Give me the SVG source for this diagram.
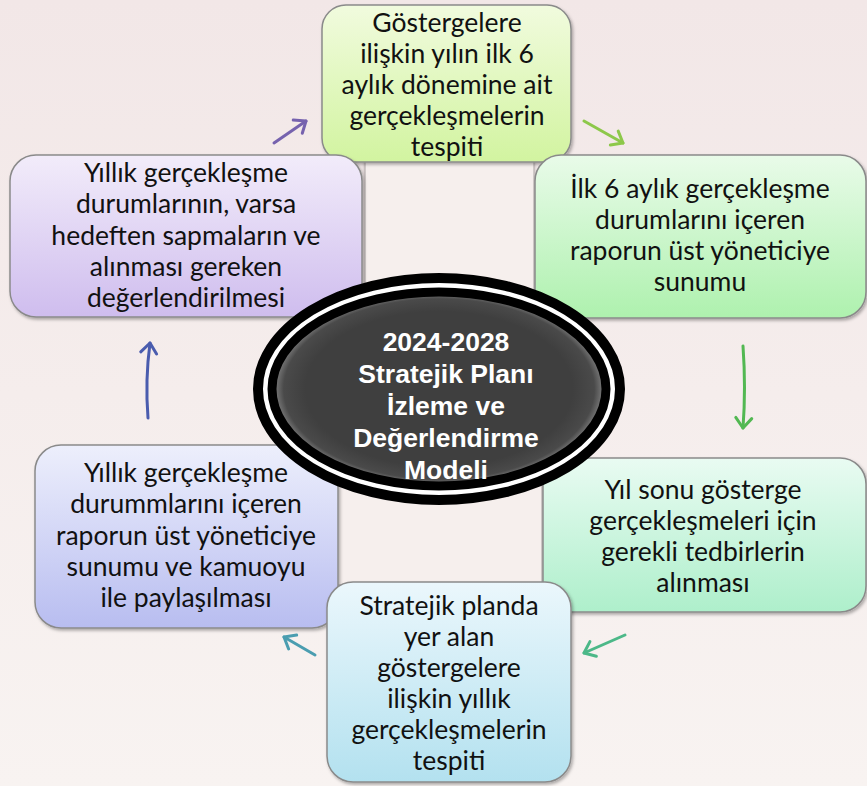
<svg xmlns="http://www.w3.org/2000/svg" width="867" height="786" viewBox="0 0 867 786">
<defs>
<style>
.box{stroke:#8a8a8a;stroke-width:1.5;filter:url(#sh)}
.t{font-family:Lato,"Open Sans",sans-serif;font-size:26.5px;fill:#111;text-anchor:middle}
.c{font-family:"Liberation Sans",Arial,sans-serif;font-weight:bold;font-size:26.5px;fill:#fff;text-anchor:middle}
.ar{fill:none;stroke-width:3;stroke-linecap:round}
.ph{fill:#f6efed;stroke:#b9b1b1;stroke-width:1.2;filter:url(#sh2)}
</style>
<linearGradient id="bg" x1="0" y1="0" x2="0" y2="1"><stop offset="0" stop-color="#f2e7e7"/><stop offset="1" stop-color="#f8f3f1"/></linearGradient>
<linearGradient id="g1" x1="0" y1="0" x2="0" y2="1"><stop offset="0" stop-color="#f1fbde"/><stop offset="1" stop-color="#d2f4a0"/></linearGradient>
<linearGradient id="g2" x1="0" y1="0" x2="0" y2="1"><stop offset="0" stop-color="#e9fbe9"/><stop offset="1" stop-color="#aef1ae"/></linearGradient>
<linearGradient id="g3" x1="0" y1="0" x2="0" y2="1"><stop offset="0" stop-color="#e9fbf2"/><stop offset="1" stop-color="#aeefcb"/></linearGradient>
<linearGradient id="g4" x1="0" y1="0" x2="0" y2="1"><stop offset="0" stop-color="#ebf7fc"/><stop offset="1" stop-color="#b3e1ef"/></linearGradient>
<linearGradient id="g5" x1="0" y1="0" x2="0" y2="1"><stop offset="0" stop-color="#edeffc"/><stop offset="1" stop-color="#b8bdf0"/></linearGradient>
<linearGradient id="g6" x1="0" y1="0" x2="0" y2="1"><stop offset="0" stop-color="#f2ecfa"/><stop offset="1" stop-color="#cfbdee"/></linearGradient>
<radialGradient id="eg" cx="0.5" cy="0.5" r="0.5"><stop offset="0.8" stop-color="#3f3f3f"/><stop offset="0.93" stop-color="#4a4a4a"/><stop offset="1" stop-color="#8a8a8a"/></radialGradient>
<filter id="sh" x="-5%" y="-5%" width="115%" height="115%"><feDropShadow dx="1.5" dy="2" stdDeviation="1.5" flood-color="#000" flood-opacity="0.3"/></filter>
<filter id="sh2" x="-5%" y="-5%" width="115%" height="115%"><feDropShadow dx="0" dy="0" stdDeviation="1.5" flood-color="#000" flood-opacity="0.25"/></filter>
<marker id="m1" viewBox="-13 -11 16 22" refX="0" refY="0" markerWidth="16" markerHeight="22" markerUnits="userSpaceOnUse" orient="auto"><path d="M-10,-8 L0,0 L-10,8" fill="none" stroke="#7662ae" stroke-width="3" stroke-linecap="round" stroke-linejoin="round"/></marker>
<marker id="m2" viewBox="-13 -11 16 22" refX="0" refY="0" markerWidth="16" markerHeight="22" markerUnits="userSpaceOnUse" orient="auto"><path d="M-10,-8 L0,0 L-10,8" fill="none" stroke="#8dc84a" stroke-width="3" stroke-linecap="round" stroke-linejoin="round"/></marker>
<marker id="m3" viewBox="-13 -11 16 22" refX="0" refY="0" markerWidth="16" markerHeight="22" markerUnits="userSpaceOnUse" orient="auto"><path d="M-10,-8 L0,0 L-10,8" fill="none" stroke="#52b852" stroke-width="3" stroke-linecap="round" stroke-linejoin="round"/></marker>
<marker id="m4" viewBox="-13 -11 16 22" refX="0" refY="0" markerWidth="16" markerHeight="22" markerUnits="userSpaceOnUse" orient="auto"><path d="M-10,-8 L0,0 L-10,8" fill="none" stroke="#4cb888" stroke-width="3" stroke-linecap="round" stroke-linejoin="round"/></marker>
<marker id="m5" viewBox="-13 -11 16 22" refX="0" refY="0" markerWidth="16" markerHeight="22" markerUnits="userSpaceOnUse" orient="auto"><path d="M-10,-8 L0,0 L-10,8" fill="none" stroke="#4a9db0" stroke-width="3" stroke-linecap="round" stroke-linejoin="round"/></marker>
<marker id="m6" viewBox="-13 -11 16 22" refX="0" refY="0" markerWidth="16" markerHeight="22" markerUnits="userSpaceOnUse" orient="auto"><path d="M-10,-8 L0,0 L-10,8" fill="none" stroke="#4a5cae" stroke-width="3" stroke-linecap="round" stroke-linejoin="round"/></marker>
</defs>
<rect width="867" height="786" fill="url(#bg)"/>
<rect class="ph" x="365" y="150" width="169" height="190"/>
<rect class="ph" x="337" y="450" width="205" height="135"/>

<g id="n1"><rect class="box" x="322" y="5" width="249" height="157" rx="24" fill="url(#g1)"/>
<text class="t" x="447"><tspan x="447" y="32">Göstergelere</tspan><tspan x="447" y="63">ilişkin yılın ilk 6</tspan><tspan x="447" y="94">aylık dönemine ait</tspan><tspan x="447" y="125">gerçekleşmelerin</tspan><tspan x="447" y="156">tespiti</tspan></text></g>

<g id="n6"><rect class="box" x="10" y="155" width="352" height="162" rx="26" fill="url(#g6)"/>
<text class="t"><tspan x="186" y="182">Yıllık gerçekleşme</tspan><tspan x="186" y="213">durumlarının, varsa</tspan><tspan x="186" y="245">hedeften sapmaların ve</tspan><tspan x="186" y="276">alınması gereken</tspan><tspan x="186" y="307">değerlendirilmesi</tspan></text></g>

<g id="n2"><rect class="box" x="535" y="155" width="331" height="163" rx="26" fill="url(#g2)"/>
<text class="t"><tspan x="700" y="198">İlk 6 aylık gerçekleşme</tspan><tspan x="700" y="229">durumlarını içeren</tspan><tspan x="700" y="260">raporun üst yöneticiye</tspan><tspan x="700" y="291">sunumu</tspan></text></g>

<g id="n5"><rect class="box" x="35" y="445" width="303" height="183" rx="26" fill="url(#g5)"/>
<text class="t"><tspan x="186" y="482">Yıllık gerçekleşme</tspan><tspan x="186" y="513">durummlarını içeren</tspan><tspan x="186" y="545">raporun üst yöneticiye</tspan><tspan x="186" y="576">sunumu ve kamuoyu</tspan><tspan x="186" y="607">ile paylaşılması</tspan></text></g>

<g id="n3"><rect class="box" x="543" y="458" width="323" height="154" rx="26" fill="url(#g3)"/>
<text class="t"><tspan x="703" y="499">Yıl sonu gösterge</tspan><tspan x="703" y="530">gerçekleşmeleri için</tspan><tspan x="703" y="561">gerekli tedbirlerin</tspan><tspan x="703" y="592">alınması</tspan></text></g>

<g id="n4"><rect class="box" x="327" y="582" width="244" height="200" rx="26" fill="url(#g4)"/>
<text class="t"><tspan x="449" y="615">Stratejik planda</tspan><tspan x="449" y="646">yer alan</tspan><tspan x="449" y="677">göstergelere</tspan><tspan x="449" y="708">ilişkin yıllık</tspan><tspan x="449" y="739">gerçekleşmelerin</tspan><tspan x="449" y="770">tespiti</tspan></text></g>

<g id="connectors">
<path class="ar" d="M274,143 L306,121" stroke="#7662ae" marker-end="url(#m1)"/>
<path class="ar" d="M584,121 L623,143" stroke="#8dc84a" marker-end="url(#m2)"/>
<path class="ar" d="M743,346 Q746,388 743,428" stroke="#52b852" marker-end="url(#m3)"/>
<path class="ar" d="M625,635 L584,653" stroke="#4cb888" marker-end="url(#m4)"/>
<path class="ar" d="M315,655 L284,637" stroke="#4a9db0" marker-end="url(#m5)"/>
<path class="ar" d="M148,418 Q145,380 150,343" stroke="#4a5cae" marker-end="url(#m6)"/>
</g>

<g id="center">
<ellipse cx="439" cy="389" rx="181" ry="111" fill="#fff" stroke="#000" stroke-width="10"/>
<ellipse cx="439" cy="389" rx="167" ry="97" fill="url(#eg)" stroke="#000" stroke-width="9"/>
<text class="c"><tspan x="446" y="351">2024-2028</tspan><tspan x="446" y="383">Stratejik Planı</tspan><tspan x="446" y="415">İzleme ve</tspan><tspan x="446" y="447">Değerlendirme</tspan><tspan x="446" y="479">Modeli</tspan></text>
</g>
</svg>
